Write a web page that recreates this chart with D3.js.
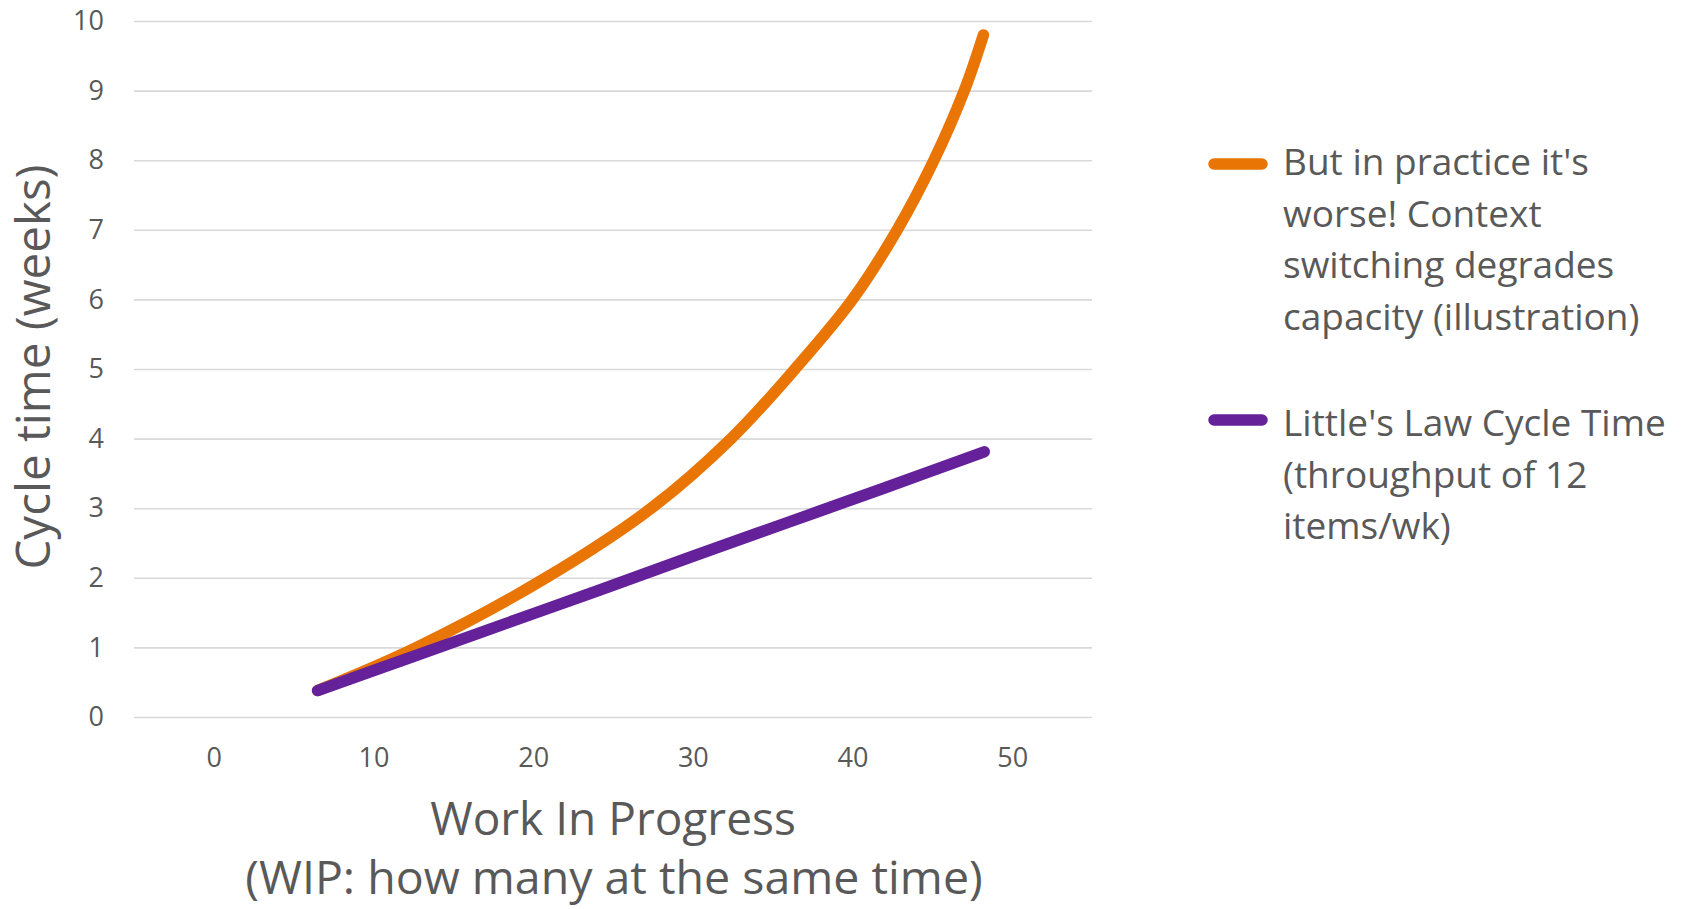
<!DOCTYPE html>
<html>
<head>
<meta charset="utf-8">
<script src="https://cdn.jsdelivr.net/npm/d3@7"></script>
<style>
  html, body { margin: 0; padding: 0; background: #ffffff; }
  svg { display: block; font-family: "Open Sans", "Noto Sans", sans-serif; }
</style>
</head>
<body>
<svg id="chart" width="1688" height="909"></svg>
<script>
// Work in progress (items) at each sampled point
const practiceWip = [6.5, 12.7, 20.8, 27.4, 32.4, 36.4, 40.0, 42.8, 45.1, 47.0, 48.2];
// Cycle time observed in practice (weeks)
const practiceCycle = [0.38, 1.0, 2.0, 3.0, 4.0, 5.0, 6.0, 7.0, 8.0, 9.0, 9.8];

const littleWip = [6.5, 12, 18, 24, 30, 36, 42, 48.25];
// Little's Law cycle time (weeks)
const littleCycle = [0.38, 0.83, 1.32, 1.81, 2.31, 2.80, 3.29, 3.81];

const xTicks = [0, 10, 20, 30, 40, 50];
const yTicks = [0, 1, 2, 3, 4, 5, 6, 7, 8, 9, 10];

const seriesNames = [
  ["But in practice it's", "worse! Context", "switching degrades", "capacity (illustration)"],
  ["Little's Law Cycle Time", "(throughput of 12", "items/wk)"]
];
const seriesColors = ["#E97505", "#65219A"];

const xTitle = ["Work In Progress", "(WIP: how many at the same time)"];
const yTitle = "Cycle time (weeks)";

const textColor = "#595959";
const gridColor = "#D9D9D9";

const svg = d3.select("#chart");
const plot = { left: 134, right: 1092, top: 21, bottom: 717 };

const x = d3.scaleLinear().domain([-5, 55]).range([plot.left, plot.right]);
const y = d3.scaleLinear().domain([0, 10]).range([plot.bottom, plot.top]);

// Horizontal gridlines with tick labels on the left
const yAxis = svg.append("g")
  .attr("transform", `translate(${plot.left},0)`)
  .call(d3.axisLeft(y).tickValues(yTicks).tickFormat(d3.format("d"))
    .tickSize(-(plot.right - plot.left)).tickPadding(30));
yAxis.select(".domain").remove();
yAxis.selectAll(".tick line").attr("stroke", gridColor).attr("stroke-width", 1.6);
yAxis.selectAll(".tick text")
  .attr("fill", textColor).attr("font-size", 27)
  .attr("font-family", "'Open Sans', sans-serif");

// X tick labels only
const xAxis = svg.append("g")
  .attr("transform", `translate(0,${plot.bottom})`)
  .call(d3.axisBottom(x).tickValues(xTicks).tickFormat(d3.format("d"))
    .tickSize(0).tickPadding(31));
xAxis.select(".domain").remove();
xAxis.selectAll(".tick text")
  .attr("fill", textColor).attr("font-size", 27)
  .attr("font-family", "'Open Sans', sans-serif");

// Series lines
const line = d3.line().x(d => x(d[0])).y(d => y(d[1])).curve(d3.curveCatmullRom.alpha(0.5));
const series = [
  d3.zip(practiceWip, practiceCycle),
  d3.zip(littleWip, littleCycle)
];
series.forEach((pts, i) => {
  svg.append("path")
    .datum(pts)
    .attr("d", line)
    .attr("fill", "none")
    .attr("stroke", seriesColors[i])
    .attr("stroke-width", 11.5)
    .attr("stroke-linecap", "round")
    .attr("stroke-linejoin", "round");
});

// Axis titles
svg.append("text")
  .attr("transform", `translate(50,367) rotate(-90)`)
  .attr("text-anchor", "middle")
  .attr("fill", textColor)
  .attr("font-size", 47.5)
  .text(yTitle);

svg.append("text")
  .attr("x", 613).attr("y", 835)
  .attr("text-anchor", "middle")
  .attr("fill", textColor)
  .attr("font-size", 46)
  .text(xTitle[0]);
svg.append("text")
  .attr("x", 614).attr("y", 894)
  .attr("text-anchor", "middle")
  .attr("fill", textColor)
  .attr("font-size", 46.5)
  .text(xTitle[1]);

// Legend
const legendMarks = [164, 420];
const legendBaselines = [175, 436];
const legend = svg.append("g");
seriesNames.forEach((lines, i) => {
  const cy = legendMarks[i];
  legend.append("line")
    .attr("x1", 1214).attr("x2", 1262)
    .attr("y1", cy).attr("y2", cy)
    .attr("stroke", seriesColors[i])
    .attr("stroke-width", 11.5)
    .attr("stroke-linecap", "round");
  const t = legend.append("text")
    .attr("fill", textColor)
    .attr("font-size", 37);
  lines.forEach((s, j) => {
    t.append("tspan")
      .attr("x", 1283)
      .attr("y", legendBaselines[i] + j * 51.7)
      .text(s);
  });
});
</script>
</body>
</html>
